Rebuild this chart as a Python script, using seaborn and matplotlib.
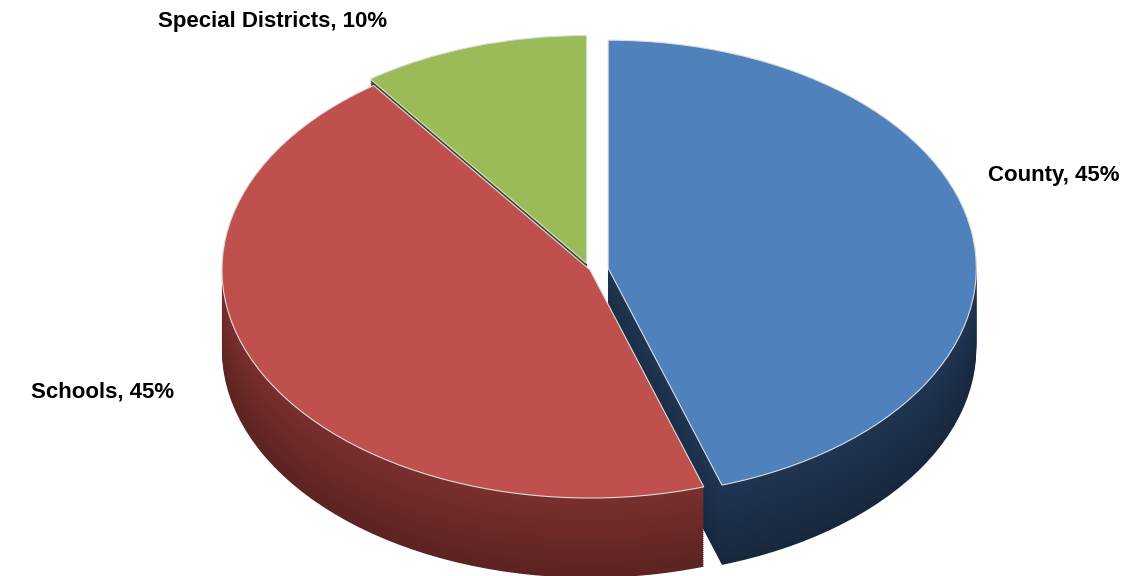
import matplotlib.pyplot as plt
import numpy as np
import seaborn as sns
from matplotlib.colors import to_rgb

sns.set_style("white")
plt.rcParams['font.family'] = ['Liberation Sans', 'DejaVu Sans']

categories = ['County', 'Schools', 'Special Districts']
shares = [45, 45, 10]
top_colors = ['#4F81BD', '#C0504D', '#9BBB59']
side_colors = ['#1F3552', '#7A2F2D', '#3B4A20']
explode = [0.05, 0.0, 0.03]

fig = plt.figure(figsize=(11.44, 5.76), dpi=100)
ax = fig.add_axes([0, 0, 1, 1])

# extruded sides: stack darker pies downward
depth = 0.35
layers = 40
for i in range(layers, 0, -1):
    dy = -depth * i / layers
    shade = 0.75 + 0.25 * (1 - i / layers)
    cols = [tuple(np.clip(np.array(to_rgb(c)) * shade, 0, 1)) for c in side_colors]
    ax.pie(shares, colors=cols, startangle=90, counterclock=False,
           explode=explode, center=(0, dy), radius=1,
           wedgeprops=dict(linewidth=0))

# top face
ax.pie(shares, colors=top_colors, startangle=90, counterclock=False,
       explode=explode, center=(0, 0), radius=1,
       wedgeprops=dict(linewidth=0.8, edgecolor='#dddddd'))

ax.set_aspect('auto')
ax.set_xlim(-1.603, 1.505)
ax.set_ylim(-1.342, 1.184)
ax.axis('off')

style = dict(fontsize=16, fontweight='bold', ha='center', va='center', color='black')
fig.text(0.238, 0.962, f'{categories[2]}, {shares[2]}%', **style)
fig.text(0.921, 0.695, f'{categories[0]}, {shares[0]}%', **style)
fig.text(0.09, 0.32, f'{categories[1]}, {shares[1]}%', **style)

fig.savefig('out.png', dpi=100)
